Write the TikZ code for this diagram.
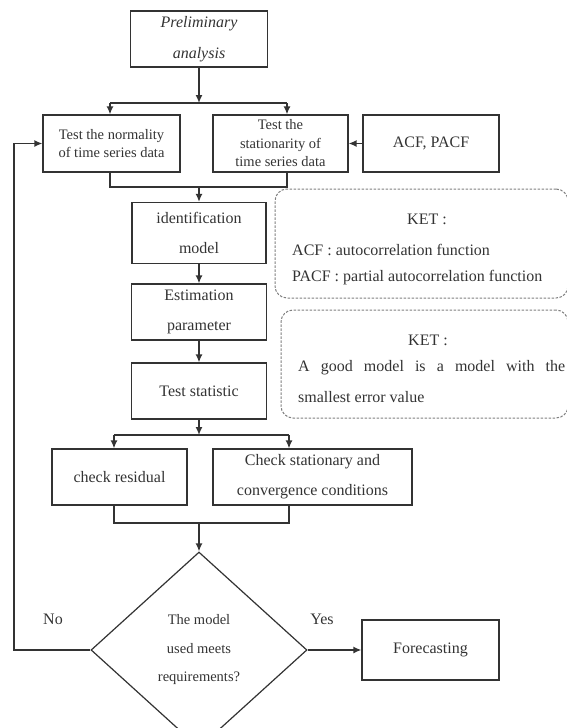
\documentclass[tikz,border=0pt]{standalone}
\usepackage{fontspec}
\setmainfont{Liberation Serif}
\usetikzlibrary{shapes.geometric,arrows.meta}
\begin{document}
\begin{tikzpicture}[x=1pt,y=-1pt,
    box/.style={draw=black!80,line width=1.2pt,inner sep=0pt,align=center,text=black!80,
      font=\fontsize{16}{30}\selectfont},
    small/.style={font=\fontsize{14.5}{18.5}\selectfont},
    note/.style={draw=black!50,dash pattern=on 2.5pt off 1.5pt,line width=1pt,rounded corners=12pt,inner sep=0pt},
    txt/.style={inner sep=0pt,text=black!80,font=\fontsize{16}{20}\selectfont},
    flow/.style={draw=black!80,line width=1.5pt},
    arr/.style={flow,-{Latex[length=8pt,width=7pt]}}]
  \useasboundingbox (0,0) rectangle (566,728);

  \node[box,minimum width=137,minimum height=56,font=\fontsize{16}{31}\selectfont\itshape] (prelim) at (199,39) {Preliminary\\analysis};
  \node[box,small,minimum width=137,minimum height=57] (norm) at (111.5,143.5) {Test the normality\\of time series data};
  \node[box,small,minimum width=135,minimum height=57] (stat) at (280.5,143.5) {Test the\\stationarity of\\time series data};
  \node[box,minimum width=136,minimum height=57] (acf) at (431,143.5) {ACF, PACF};
  \node[box,minimum width=134,minimum height=61] (ident) at (199,233) {identification\\model};
  \node[box,minimum width=135,minimum height=56] (estim) at (199,312) {Estimation\\parameter};
  \node[box,minimum width=135,minimum height=56] (tstat) at (199,391) {Test statistic};
  \node[box,minimum width=135,minimum height=56] (resid) at (119.5,477) {check residual};
  \node[box,minimum width=199,minimum height=56] (chk) at (312.5,477) {Check stationary and\\convergence conditions};
  \node[box,diamond,aspect=1.1,minimum width=216,minimum height=196,font=\fontsize{14.5}{28.5}\selectfont] (dec) at (199,650) {The model\\used meets\\requirements?};
  \node[box,minimum width=137,minimum height=60] (fore) at (430.5,650) {Forecasting};

  \node[note,minimum width=293,minimum height=109] (ket1) at (421.5,243.5) {};
  \node[txt] (ket1h) at (427,219) {KET :};
  \node[txt,anchor=west] (ket1a) at (292,250) {ACF : autocorrelation function};
  \node[txt,anchor=west] (ket1b) at (292,278) {PACF : partial autocorrelation function};
  \node[note,minimum width=287,minimum height=108] (ket2) at (424.5,364) {};
  \node[txt] (ket2h) at (428,340) {KET :};
  \node[txt,anchor=west] (ket2a) at (298,368) {\makebox[267pt][s]{A good model is a model with the}};
  \node[txt,anchor=west] (ket2b) at (298,397) {smallest error value};

  \node[txt] (no) at (53,619) {No};
  \node[txt] (yes) at (322,619) {Yes};

  \coordinate (b1) at (199,103);
  \coordinate (b1l) at (110,103);
  \coordinate (b1r) at (287,103);
  \coordinate (m1) at (199,187);
  \coordinate (b2) at (199,435);
  \coordinate (b2l) at (114,435);
  \coordinate (b2r) at (289,435);
  \coordinate (m2) at (199,523);
  \coordinate (fb) at (14,650);

  \draw[arr] (prelim) -- (b1);
  \draw[flow] (b1l) -- (b1r);
  \draw[arr] (b1l) -- (b1l |- norm.north);
  \draw[arr] (b1r) -- (b1r |- stat.north);
  \draw[arr] (acf) -- (stat);
  \draw[flow] (b1l |- norm.south) |- (m1) -| (b1r |- stat.south);
  \draw[arr] (m1) -- (ident);
  \draw[arr] (ident) -- (estim);
  \draw[arr] (estim) -- (tstat);
  \draw[arr] (tstat) -- (b2);
  \draw[flow] (b2l) -- (b2r);
  \draw[arr] (b2l) -- (b2l |- resid.north);
  \draw[arr] (b2r) -- (b2r |- chk.north);
  \draw[flow] (b2l |- resid.south) |- (m2) -| (b2r |- chk.south);
  \draw[arr] (m2) -- (dec);
  \draw[arr] (dec) -- (fore);
  \draw[arr] (dec.west) -- (fb) |- (norm.west);
\end{tikzpicture}
\end{document}
